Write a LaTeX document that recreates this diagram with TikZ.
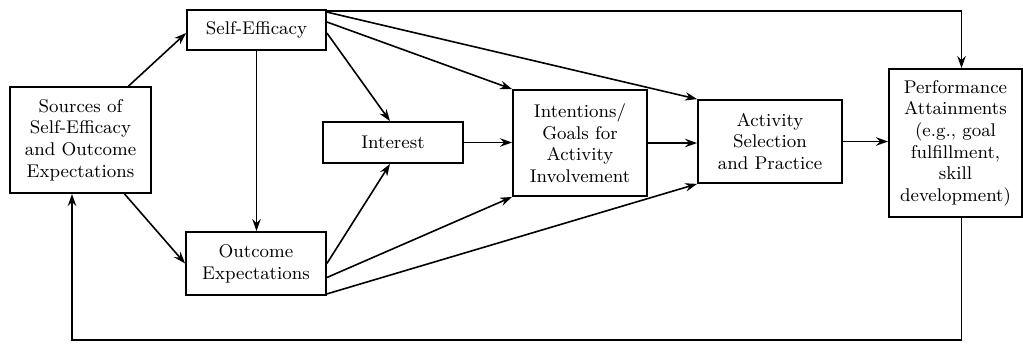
\documentclass[tikz,border=0pt]{standalone}
\usetikzlibrary{arrows.meta}
\begin{document}
\begin{tikzpicture}[x=0.5pt,y=-0.5pt,
  box/.style={draw,line width=0.9pt,align=center,inner sep=1pt,font=\fontsize{9.2}{10.8}\selectfont},
  link/.style={line width=0.8pt,-{Stealth[length=6pt,width=4.2pt]}}]
\useasboundingbox (0,0) rectangle (1023,344);

\node[box,minimum width=70.5pt,minimum height=53pt] (src) at (80.5,140) {Sources of\\Self-Efficacy\\and Outcome\\Expectations};
\node[box,minimum width=69.5pt,minimum height=20pt] (self) at (256.5,30) {Self-Efficacy};
\node[box,minimum width=70pt,minimum height=31.5pt] (outc) at (256,263.5) {Outcome\\Expectations};
\node[box,minimum width=70pt,minimum height=20.5pt] (intr) at (393,142.5) {Interest};
\node[box,minimum width=67pt,minimum height=53pt] (goal) at (580,143) {Intentions/\\Goals for\\Activity\\Involvement};
\node[box,minimum width=72pt,minimum height=41.5pt] (act) at (770,141.5) {Activity\\Selection\\and Practice};
\node[box,minimum width=66.5pt,minimum height=74pt] (perf) at (955.5,143) {Performance\\Attainments\\(e.g., goal\\fulfillment,\\skill\\development)};
\coordinate (back) at (72,340);

\draw[link] ([xshift=24pt]src.north) -- ([yshift=-1.5pt]self.west);
\draw[link] ([xshift=22pt]src.south) -- (outc.west);
\draw[link] (self.south) -- (self.south |- outc.north);
\draw[link] ([yshift=-1.5pt]self.east) -- ([xshift=-1.5pt]intr.north);
\draw[link] ([yshift=4pt]self.east) -- (goal.north west);
\draw[link] ([yshift=-1.5pt]self.north east) -- (act.north west);
\draw[link] ([yshift=-1pt]self.north east) -| ([xshift=3pt]perf.north);
\draw[link] (outc.east) -- ([xshift=-1.5pt]intr.south);
\draw[link] ([yshift=-7pt]outc.east) -- (goal.south west);
\draw[link] ([yshift=1pt]outc.south east) -- (act.south west);
\draw[link] (intr.east) -- (intr.east -| goal.west);
\draw[link] (goal.east) -- (goal.east -| act.west);
\draw[link] (act.east) -- (act.east -| perf.west);
\draw[link] ([xshift=3pt]perf.south) |- (back) -- (back |- src.south);
\end{tikzpicture}
\end{document}
